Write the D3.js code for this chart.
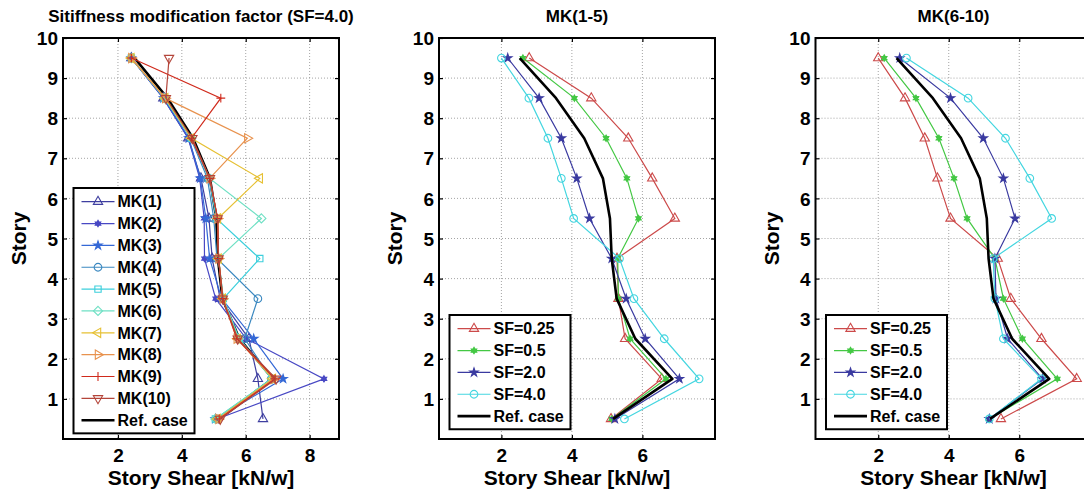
<!DOCTYPE html>
<html><head><meta charset="utf-8">
<script src="https://cdn.jsdelivr.net/npm/d3@7"></script>
<style>
body{margin:0;background:#fff}
text{font-family:"Liberation Sans",Arial,sans-serif;font-weight:bold;fill:#000}
</style>
</head><body>
<svg id="c" width="1084" height="491"></svg>
<script>
// ---------------- DATA ----------------
const stories = [0.5,1.5,2.5,3.5,4.5,5.5,6.5,7.5,8.5,9.5];
const refCase = [5.17,6.85,5.80,5.27,5.13,5.08,4.88,4.35,3.55,2.52];

// Panel 1 : SF = 4.0 applied at single story MK(k)
const mk1  = [6.54,6.38,6.10,5.20,4.95,4.85,4.60,4.20,3.42,2.42];
const mk2  = [5.10,8.45,6.02,5.06,4.71,4.70,4.56,4.20,3.42,2.42];
const mk3  = [5.05,7.17,6.25,5.25,4.87,4.75,4.58,4.22,3.43,2.42];
const mk4  = [5.10,6.80,5.97,6.38,5.10,5.00,4.80,4.28,3.46,2.42];
const mk5  = [5.05,6.82,5.80,5.30,6.44,5.08,4.85,4.30,3.46,2.42];
const mk6  = [5.05,6.82,5.78,5.30,5.15,6.49,4.87,4.30,3.46,2.42];
const mk7  = [5.12,6.85,5.75,5.28,5.15,5.13,6.44,4.30,3.48,2.42];
const mk8  = [5.15,6.88,5.72,5.28,5.15,5.12,4.87,6.05,3.48,2.42];
const mk9  = [5.17,6.92,5.72,5.28,5.15,5.12,4.87,4.30,5.22,2.42];
const mk10 = [5.20,6.95,5.75,5.28,5.15,5.12,4.88,4.33,3.50,3.60];
const mkLabels = ["MK(1)","MK(2)","MK(3)","MK(4)","MK(5)","MK(6)","MK(7)","MK(8)","MK(9)","MK(10)"];

// Panel 2 : MK(1-5)
const mk15_sf025 = [5.11,6.55,5.51,5.32,5.28,6.92,6.28,5.60,4.55,2.79];
const mk15_sf05  = [5.13,6.67,5.65,5.32,5.30,5.89,5.56,4.97,4.07,2.61];
const mk15_sf20  = [5.22,7.05,6.08,5.54,5.13,4.50,4.14,3.70,3.07,2.18];
const mk15_sf40  = [5.49,7.61,6.62,5.76,5.35,4.05,3.70,3.32,2.78,2.00];

// Panel 3 : MK(6-10)
const mk610_sf025 = [5.48,7.63,6.63,5.76,5.39,4.05,3.68,3.32,2.76,2.00];
const mk610_sf05  = [5.15,7.08,6.09,5.55,5.31,4.52,4.15,3.72,3.07,2.17];
const mk610_sf20  = [5.15,6.66,5.67,5.34,5.31,5.88,5.55,4.98,4.05,2.61];
const mk610_sf40  = [5.15,6.63,5.55,5.31,5.26,6.92,6.30,5.61,4.55,2.80];
const sfLabels = ["SF=0.25","SF=0.5","SF=2.0","SF=4.0"];
const refLabel = "Ref. case";

const titles = ["Sitiffness modification factor (SF=4.0)","MK(1-5)","MK(6-10)"];
const yTicks = [1,2,3,4,5,6,7,8,9,10];
const xTicksP1 = [2,4,6,8];
const xTicksP23 = [2,4,6];
const xLabel = "Story Shear [kN/w]";
const yLabel = "Story";

// ---------------- STYLE / LAYOUT ----------------
const mkColors = ["#3f3fa0","#4848c4","#3468d6","#3a88c0","#3ccfdc","#6fe0c4","#e6c033","#e8924e","#d02a1c","#b4453a"];
const mkMarkers = ["triUp","hexagram","pentagram","circle","square","diamond","triLeft","triRight","plus","triDown"];
const sfColors = ["#cc4a4a","#44c844","#3a3aa0","#44d6e0"];
const sfMarkers = ["triUp","hexagram","pentagram","circle"];

function triangle(angle){
  return {draw(ctx,size){const r=Math.sqrt(size)*0.85;
    for(let i=0;i<3;i++){const a=(angle+i*120)*Math.PI/180;const x=r*Math.cos(a),y=r*Math.sin(a);
      if(i===0)ctx.moveTo(x,y);else ctx.lineTo(x,y);} ctx.closePath();}};
}
const symbolTypes = {
  triUp: triangle(-90), triDown: triangle(90), triLeft: triangle(180), triRight: triangle(0),
  circle: d3.symbolCircle,
  square: {draw(ctx,size){const s=Math.sqrt(size)*0.5;ctx.rect(-s,-s,2*s,2*s);}},
  diamond: {draw(ctx,size){const r=Math.sqrt(size)*0.72;ctx.moveTo(0,-r);ctx.lineTo(r,0);ctx.lineTo(0,r);ctx.lineTo(-r,0);ctx.closePath();}},
  pentagram: d3.symbolStar,
  hexagram: {draw(ctx,size){const r=Math.sqrt(size)*0.6;
    [-90,90].forEach(a0=>{for(let i=0;i<3;i++){const a=(a0+i*120)*Math.PI/180;const x=r*Math.cos(a),y=r*Math.sin(a);
      if(i===0)ctx.moveTo(x,y);else ctx.lineTo(x,y);}ctx.closePath();});}},
  plus: {draw(ctx,size){const r=Math.sqrt(size)*0.7;ctx.moveTo(-r,0);ctx.lineTo(r,0);ctx.moveTo(0,-r);ctx.lineTo(0,r);}}
};
const filledMarkers = new Set(["pentagram","hexagram"]);
const markerSize = {triUp:40,triDown:40,triLeft:40,triRight:40,circle:46,square:40,diamond:40,pentagram:22,hexagram:28,plus:40};

function sym(name){return d3.symbol().type(symbolTypes[name]).size(markerSize[name])();}

const panels = [
  {title:titles[0], left:63, right:339, top:38, bottom:439, xdom:[0.28,8.92], xticks:xTicksP1,
   series:[mk1,mk2,mk3,mk4,mk5,mk6,mk7,mk8,mk9,mk10].map((v,i)=>({name:mkLabels[i],values:v,color:mkColors[i],marker:mkMarkers[i]})),
   refFirst:true, legendTop:188},
  {title:titles[1], left:439, right:715, top:38, bottom:439, xdom:[0.23,8.06], xticks:xTicksP23,
   series:[mk15_sf025,mk15_sf05,mk15_sf20,mk15_sf40].map((v,i)=>({name:sfLabels[i],values:v,color:sfColors[i],marker:sfMarkers[i]})),
   refFirst:false, legendTop:315},
  {title:titles[2], left:815.5, right:1091.5, top:38, bottom:439, xdom:[0.22,8.05], xticks:xTicksP23,
   series:[mk610_sf025,mk610_sf05,mk610_sf20,mk610_sf40].map((v,i)=>({name:sfLabels[i],values:v,color:sfColors[i],marker:sfMarkers[i]})),
   refFirst:false, legendTop:315}
];

const svg = d3.select("#c");

panels.forEach(p=>{
  const x = d3.scaleLinear().domain(p.xdom).range([p.left,p.right]);
  const y = d3.scaleLinear().domain([0,10]).range([p.bottom,p.top]);
  const g = svg.append("g");
  const clipId = "clip"+Math.round(p.left);
  svg.append("clipPath").attr("id",clipId).append("rect")
    .attr("x",p.left).attr("y",p.top).attr("width",p.right-p.left).attr("height",p.bottom-p.top);

  // grid
  const grid = g.append("g").attr("stroke","#9a9a9a").attr("stroke-width",0.9).attr("stroke-dasharray","1,2");
  p.xticks.forEach(t=>grid.append("line").attr("x1",x(t)).attr("x2",x(t)).attr("y1",p.top).attr("y2",p.bottom));
  yTicks.forEach(t=>grid.append("line").attr("x1",p.left).attr("x2",p.right).attr("y1",y(t)).attr("y2",y(t)));

  // axes
  const ax = (sel)=>{sel.select(".domain").remove();sel.selectAll(".tick line").attr("stroke","#000").attr("stroke-width",1.2);
    sel.selectAll("text").style("font-size","19px").style("font-family","'Liberation Sans',Arial,sans-serif").style("font-weight","bold").attr("fill","#000");};
  g.append("g").attr("transform",`translate(${p.left},0)`)
    .call(d3.axisLeft(y).tickValues(yTicks).tickSize(-4).tickSizeOuter(0).tickPadding(5).tickFormat(d3.format("d"))).call(ax)
    .selectAll("text").attr("dy","0.35em");
  g.append("g").attr("transform",`translate(${p.right},0)`)
    .call(d3.axisRight(y).tickValues(yTicks).tickSize(-4).tickSizeOuter(0).tickFormat("")).call(ax);
  g.append("g").attr("transform",`translate(0,${p.bottom})`)
    .call(d3.axisBottom(x).tickValues(p.xticks).tickSize(-4).tickSizeOuter(0).tickPadding(10).tickFormat(d3.format("d"))).call(ax);
  g.append("g").attr("transform",`translate(0,${p.top})`)
    .call(d3.axisTop(x).tickValues(p.xticks).tickSize(-4).tickSizeOuter(0).tickFormat("")).call(ax);

  // data
  const line = d3.line().x(d=>x(d[0])).y(d=>y(d[1]));
  const data = g.append("g").attr("clip-path",`url(#${clipId})`);
  const drawRef = ()=>data.append("path").datum(refCase.map((v,i)=>[v,stories[i]]))
      .attr("d",line).attr("fill","none").attr("stroke","#000").attr("stroke-width",2.6).attr("stroke-linejoin","round");
  if(p.refFirst) drawRef();
  p.series.forEach(s=>{
    const pts = s.values.map((v,i)=>[v,stories[i]]);
    data.append("path").datum(pts).attr("d",line).attr("fill","none").attr("stroke",s.color).attr("stroke-width",1.2);
    data.selectAll(null).data(pts).enter().append("path")
      .attr("d",sym(s.marker)).attr("transform",d=>`translate(${x(d[0])},${y(d[1])})`)
      .attr("fill",filledMarkers.has(s.marker)?s.color:"none").attr("stroke",s.color).attr("stroke-width",1.1);
  });
  if(!p.refFirst) drawRef();

  // box
  g.append("rect").attr("x",p.left).attr("y",p.top).attr("width",p.right-p.left).attr("height",p.bottom-p.top)
    .attr("fill","none").attr("stroke","#000").attr("stroke-width",2);

  // title & labels
  g.append("text").attr("x",(p.left+p.right)/2).attr("y",22).attr("text-anchor","middle").style("font-size","17px").text(p.title);
  g.append("text").attr("x",(p.left+p.right)/2).attr("y",485).attr("text-anchor","middle").style("font-size","21px").text(xLabel);
  g.append("text").attr("transform",`translate(${p.left-37},${(p.top+p.bottom)/2}) rotate(-90)`)
    .attr("text-anchor","middle").style("font-size","21px").text(yLabel);

  // legend
  const entries = p.series.map(s=>({name:s.name,color:s.color,marker:s.marker,ref:false}))
    .concat([{name:refLabel,color:"#000",marker:null,ref:true}]);
  const lx = p.left+10.5, lw = 121, step = 21.85, lt = p.legendTop;
  const lg = g.append("g");
  lg.append("rect").attr("x",lx).attr("y",lt).attr("width",lw).attr("height",entries.length*step+5)
    .attr("fill","#fff").attr("stroke","#000").attr("stroke-width",2);
  entries.forEach((e,i)=>{
    const cy = lt+13.7+i*step;
    lg.append("line").attr("x1",lx+8).attr("x2",lx+41).attr("y1",cy).attr("y2",cy)
      .attr("stroke",e.color).attr("stroke-width",e.ref?2.6:1.2);
    if(e.marker) lg.append("path").attr("d",sym(e.marker)).attr("transform",`translate(${lx+24.5},${cy})`)
      .attr("fill",filledMarkers.has(e.marker)?e.color:"none").attr("stroke",e.color).attr("stroke-width",1.1);
    lg.append("text").attr("x",lx+44).attr("y",cy).attr("dy","0.36em").style("font-size","16px").text(e.name);
  });
});
</script>
</body></html>
